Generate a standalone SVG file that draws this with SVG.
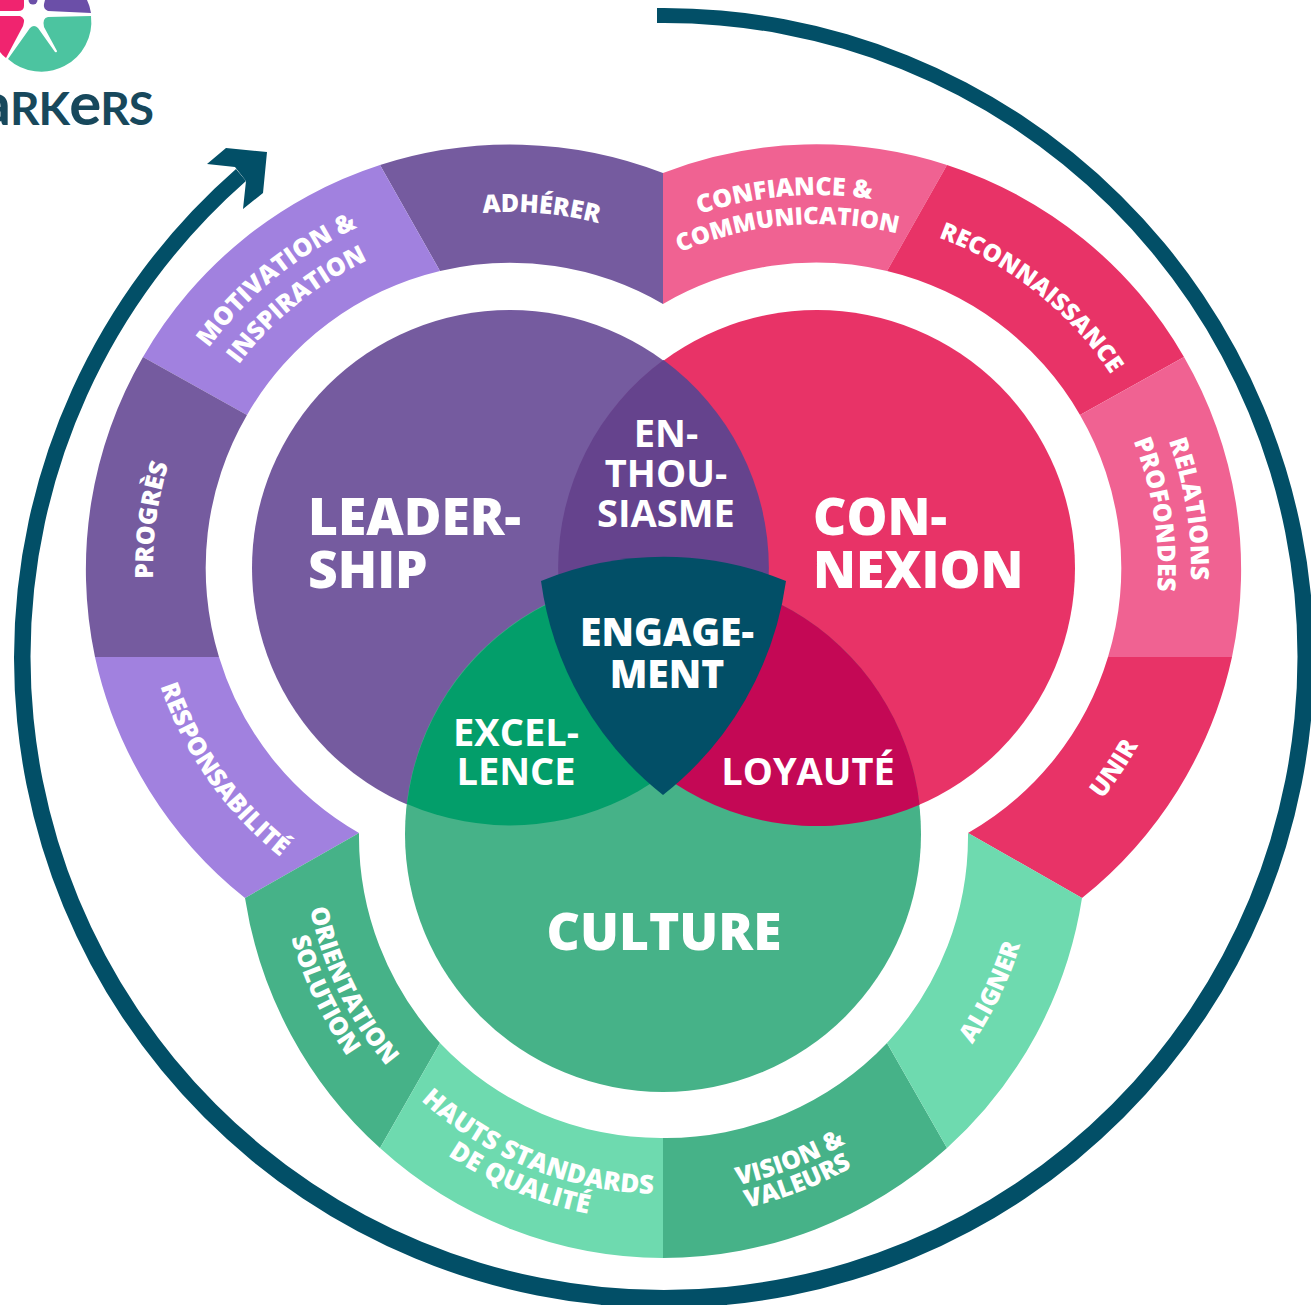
<svg xmlns="http://www.w3.org/2000/svg" width="1311" height="1305" viewBox="0 0 1311 1305">
<style>
text{font-family:"Open Sans","Noto Sans",sans-serif;fill:#fff;font-weight:700}
.big{font-size:51.5px;font-weight:800}.mid{font-size:38px;font-weight:700}.eng{font-size:39px;font-weight:800}
.ctr{text-anchor:middle}
.s{font-size:25px;font-weight:800;text-anchor:middle}
.s24{font-size:24px}.s26{font-size:26px}
.purple{fill:#755B9F}.lilac{fill:#A181DF}.pink{fill:#F06292}.red{fill:#E83367}.green{fill:#46B288}.mint{fill:#6EDAAF}
</style>
<defs>
<path id="o339" d="M-339,0A339,339 0 0 1 339,0"/>
<path id="o340" d="M-340,0A340,340 0 0 1 340,0"/>
<path id="o341" d="M-341,0A341,341 0 0 1 341,0"/>
<path id="o344" d="M-344,0A344,344 0 0 1 344,0"/>
<path id="o352" d="M-352,0A352,352 0 0 1 352,0"/>
<path id="o356" d="M-356,0A356,356 0 0 1 356,0"/>
<path id="o357" d="M-357,0A357,357 0 0 1 357,0"/>
<path id="o373" d="M-373,0A373,373 0 0 1 373,0"/>
<path id="o374" d="M-374,0A374,374 0 0 1 374,0"/>
<path id="i360" d="M-360,0A360,360 0 0 0 360,0"/>
<path id="i361" d="M-361,0A361,361 0 0 0 361,0"/>
<path id="i359" d="M-359,0A359,359 0 0 0 359,0"/>
<path id="i369" d="M-369,0A369,369 0 0 0 369,0"/>
<path id="i367" d="M-367,0A367,367 0 0 0 367,0"/>
<path id="i374" d="M-374,0A374,374 0 0 0 374,0"/>
<path id="i383" d="M-383,0A383,383 0 0 0 383,0"/>
<path id="i386" d="M-386,0A386,386 0 0 0 386,0"/>
<path id="i387" d="M-387,0A387,387 0 0 0 387,0"/>
</defs>
<g id="logo">
<path d="M91,16A50,50 0 0 1 8,59L30,28Q34,24 38,28L55,52Q57,53 57,51L44,27Q42,18 48,17Z" fill="#4CC4A0"/>
<path d="M45,0H87Q90,6 91,13L48,11Q43,9 44,4Z" fill="#6B4FA8"/>
<circle cx="33" cy="0" r="4.5" fill="#6B4FA8"/>
<path d="M0,0H24V6Q24,11 18,11H0Z" fill="#F0246F"/>
<path d="M0,16H20Q26,18 23,26L6,58Q2,55 0,52Z" fill="#F0246F"/>
<text x="153" y="125" text-anchor="end" letter-spacing="-1" style="font-family:Lato,sans-serif;font-size:46px;font-weight:700;fill:#17485C"><tspan font-size="60">a</tspan>RK<tspan font-size="60">e</tspan>RS</text>
</g>
<g id="connectors">
<path d="M657,8A650,650 0 0 1 1314,658A650,650 0 0 1 664,1308A650,650 0 0 1 14,658A650,650 0 0 1 236,169L246,181A633.5,633.5 0 0 0 30.5,656.5A633.5,633.5 0 0 0 664,1290A633.5,633.5 0 0 0 1297.5,656.5A633.5,633.5 0 0 0 657,23Z" fill="#024F67"/>
<polygon points="226,148 267,152 263,193 243,209 246,181 235,167 207,164" fill="#024F67"/>
</g>
<g id="segments">
<g id="adherer"><path class="purple" d="M663,173A424,424 0 0 0 380,165L440,271A304,304 0 0 1 663,304Z"/><text class="s" transform="translate(510 568) rotate(5)"><textPath href="#o356" startOffset="50%">ADHÉRER</textPath></text></g>
<g id="motivation"><path class="lilac" d="M380,165A424,424 0 0 0 143,357L247,415A304,304 0 0 1 440,271Z"/><text class="s" transform="translate(510 568) rotate(-39)"><textPath href="#o373" startOffset="50%">MOTIVATION &amp;</textPath></text><text class="s" transform="translate(510 568) rotate(-39)"><textPath href="#o339" startOffset="50%">INSPIRATION</textPath></text></g>
<g id="progres"><path class="purple" d="M143,357A424,424 0 0 0 95,657H219A304,304 0 0 1 247,415Z"/><text class="s" transform="translate(510 568) rotate(-82.4)"><textPath href="#o357" startOffset="50%">PROGRÈS</textPath></text></g>
<g id="responsabilite"><path class="lilac" d="M95,657A424,424 0 0 0 245,898L359,833A304,304 0 0 1 219,657Z"/><text class="s" transform="translate(510 568) rotate(54.9)"><textPath href="#i369" startOffset="50%">RESPONSABILITÉ</textPath></text></g>
<g id="confiance"><path class="pink" d="M663,173A424,424 0 0 1 947,165L887,271A304,304 0 0 0 663,304Z"/><text class="s" transform="translate(817 568) rotate(-5)"><textPath href="#o373" startOffset="50%">CONFIANCE &amp;</textPath></text><text class="s s24" transform="translate(817 568) rotate(-5)"><textPath href="#o344" startOffset="50%">COMMUNICATION</textPath></text></g>
<g id="reconnaissance"><path class="red" d="M947,165A424,424 0 0 1 1184,357L1080,415A304,304 0 0 0 887,271Z"/><text class="s s24" transform="translate(817 568) rotate(38.4)"><textPath href="#o352" startOffset="50%">RECONNAISSANCE</textPath></text></g>
<g id="relations"><path class="pink" d="M1184,357A424,424 0 0 1 1232,657H1108A304,304 0 0 0 1080,415Z"/><text class="s" transform="translate(817 568) rotate(81)"><textPath href="#o374" startOffset="50%">RELATIONS</textPath></text><text class="s" transform="translate(817 568) rotate(81)"><textPath href="#o341" startOffset="50%">PROFONDES</textPath></text></g>
<g id="unir"><path class="red" d="M1232,657A424,424 0 0 1 1082,898L968,833A304,304 0 0 0 1108,657Z"/><text class="s" transform="translate(817 568) rotate(-56)"><textPath href="#i367" startOffset="50%">UNIR</textPath></text></g>
<g id="orientation"><path class="green" d="M245,898A424,424 0 0 0 380,1148L440,1043A304,304 0 0 1 359,833Z"/><text class="s" transform="translate(663 834) rotate(64)"><textPath href="#i361" startOffset="50%">ORIENTATION</textPath></text><text class="s" transform="translate(663 834) rotate(64.6)"><textPath href="#i386" startOffset="50%">SOLUTION</textPath></text></g>
<g id="hauts"><path class="mint" d="M380,1148A424,424 0 0 0 663,1258V1138A304,304 0 0 1 440,1043Z"/><text class="s s26" transform="translate(663 834) rotate(21.9)"><textPath href="#i360" startOffset="50%">HAUTS STANDARDS</textPath></text><text class="s s26" transform="translate(663 834) rotate(22.5)"><textPath href="#i387" startOffset="50%">DE QUALITÉ</textPath></text></g>
<g id="vision"><path class="green" d="M663,1258A424,424 0 0 0 947,1148L887,1043A304,304 0 0 1 663,1138Z"/><text class="s" transform="translate(663 834) rotate(-21.3)"><textPath href="#i359" startOffset="50%">VISION &amp;</textPath></text><text class="s" transform="translate(663 834) rotate(-21.1)"><textPath href="#i383" startOffset="50%">VALEURS</textPath></text></g>
<g id="aligner"><path class="mint" d="M947,1148A424,424 0 0 0 1082,898L968,833A304,304 0 0 1 887,1043Z"/><text class="s" transform="translate(663 834) rotate(-64.3)"><textPath href="#i374" startOffset="50%">ALIGNER</textPath></text></g>
</g>
<g id="leadership"><circle class="purple" cx="510" cy="568" r="258"/></g>
<g id="connexion"><circle class="red" cx="817" cy="568" r="258"/></g>
<g id="culture"><circle class="green" cx="663" cy="834" r="258"/></g>
<g id="enthousiasme"><path d="M663.5,360A258,258 0 0 1 663.5,776A258,258 0 0 1 663.5,360Z" fill="#65438D"/></g>
<g id="excellence"><path d="M407,804A258,258 0 0 1 766,598A258,258 0 0 1 407,804Z" fill="#039E6A"/></g>
<g id="loyaute"><path d="M560.4,597.3A258,258 0 0 1 919.6,804.7A258,258 0 0 1 560.4,597.3Z" fill="#C40855"/></g>
<g id="engagement"><path d="M541,581A322,322 0 0 1 786,581A330,330 0 0 1 663,795A330,330 0 0 1 541,581Z" fill="#024F67"/></g>
<g id="labels">
<text class="big" x="308" y="535">LEADER-</text>
<text class="big" x="308" y="588">SHIP</text>
<text class="big" x="813" y="535">CON-</text>
<text class="big" x="813" y="588">NEXION</text>
<text class="big ctr" x="664" y="950">CULTURE</text>
<text class="mid ctr" x="666" y="447">EN-</text>
<text class="mid ctr" x="666" y="487">THOU-</text>
<text class="mid ctr" x="666" y="527">SIASME</text>
<text class="eng ctr" x="667" y="646">ENGAGE-</text>
<text class="eng ctr" x="667" y="688">MENT</text>
<text class="mid ctr" x="516" y="746">EXCEL-</text>
<text class="mid ctr" x="516" y="785">LENCE</text>
<text class="mid ctr" x="808" y="785">LOYAUTÉ</text>
</g>
</svg>
